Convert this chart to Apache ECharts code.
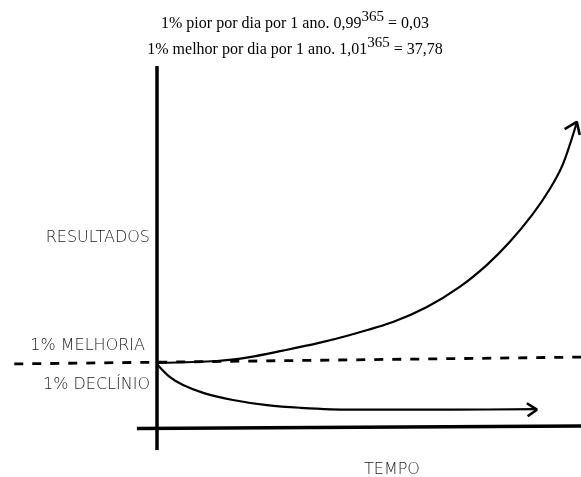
<!DOCTYPE html>
<html>
<head>
<meta charset="utf-8">
<script src="https://cdn.jsdelivr.net/npm/echarts@6/dist/echarts.min.js"></script>
<style>html,body{margin:0;padding:0;background:#fff}#c{width:581px;height:477px}</style>
</head>
<body>
<div id="c"></div>
<script>
// time (share of year, 0..100) vs results (1 = starting level)
const growth = [[0,1.00],[14.3,1.03],[22.1,1.09],[30.0,1.19],[38.1,1.30],[46.0,1.43],[56.2,1.63],[64.3,1.86],[72.1,2.17],[78.6,2.51],[84.0,2.86],[89.5,3.29],[93.6,3.68],[96.7,4.06],[100.0,4.70]];
const decline = [[0,0.98],[3.1,0.78],[6.2,0.66],[11.0,0.54],[18.1,0.43],[26.2,0.35],[34.0,0.31],[46.0,0.28],[69.8,0.28],[90.5,0.29]];
const growthArrow = [[97.1,4.60],[100.0,4.71],[100.7,4.51]];
const declineArrow = [[88.1,0.38],[90.5,0.28],[88.3,0.18]];
const baseline = [[-34.0,0.985],[101,1.09]];
const yAxisLine = [[0,5.57],[0,-0.34]];
const xAxisLine = [[-4.8,-0.01],[101,0.03]];
const labels = {y:'RESULTADOS', x:'TEMPO', up:'1% MELHORIA', down:'1% DECLÍNIO'};
const titleLines = [['1% pior por dia por 1 ano. 0,99','365',' = 0,03'],['1% melhor por dia por 1 ano. 1,01','365',' = 37,78']];

const chart = echarts.init(document.getElementById('c'), null, {renderer:'canvas'});
const lineS = (data, w, extra) => Object.assign({type:'line', data, symbol:'none', clip:false, silent:true,
  lineStyle:{color:'#000', width:w}, animation:false}, extra||{});
const sans = '"DejaVu Sans", sans-serif';
const rich = {a:{fontFamily:'"Liberation Serif", serif', fontSize:16, color:'#222', lineHeight:22, verticalAlign:'bottom'},
              s:{fontFamily:'"Liberation Serif", serif', fontSize:15, color:'#222', lineHeight:22, verticalAlign:'top'}};
const mk = (l) => '{a|'+l[0]+'}{s|'+l[1]+'}{a|'+l[2]+'}';
const lab = (text, x, y, align) => ({type:'text', x, y, style:{text, font:'200 16px '+sans, fill:'#222', align, verticalAlign:'middle'}});
chart.setOption({
  animation:false,
  grid:{left:0, right:0, top:66, bottom:27},
  xAxis:{type:'value', min:-37.4, max:101, show:false},
  yAxis:{type:'value', min:-0.34, max:5.57, show:false},
  series:[
    lineS(yAxisLine, 3.5),
    lineS(xAxisLine, 3.5),
    lineS(baseline, 2.8, {lineStyle:{color:'#000', width:2.8, type:[9,9]}}),
    lineS(growth, 2.2, {smooth:0.3}),
    lineS(decline, 2.2, {smooth:0.3}),
    lineS(growthArrow, 2.6),
    lineS(declineArrow, 2.6)
  ],
  graphic:[
    {type:'text', x:295, y:10, style:{text:mk(titleLines[0]), rich, align:'center'}},
    {type:'text', x:295, y:36, style:{text:mk(titleLines[1]), rich, align:'center'}},
    lab(labels.y, 150, 237.5, 'right'),
    lab(labels.up, 145, 345.5, 'right'),
    lab(labels.down, 150, 384.5, 'right'),
    lab(labels.x, 392, 470, 'center')
  ]
});
</script>
</body>
</html>
